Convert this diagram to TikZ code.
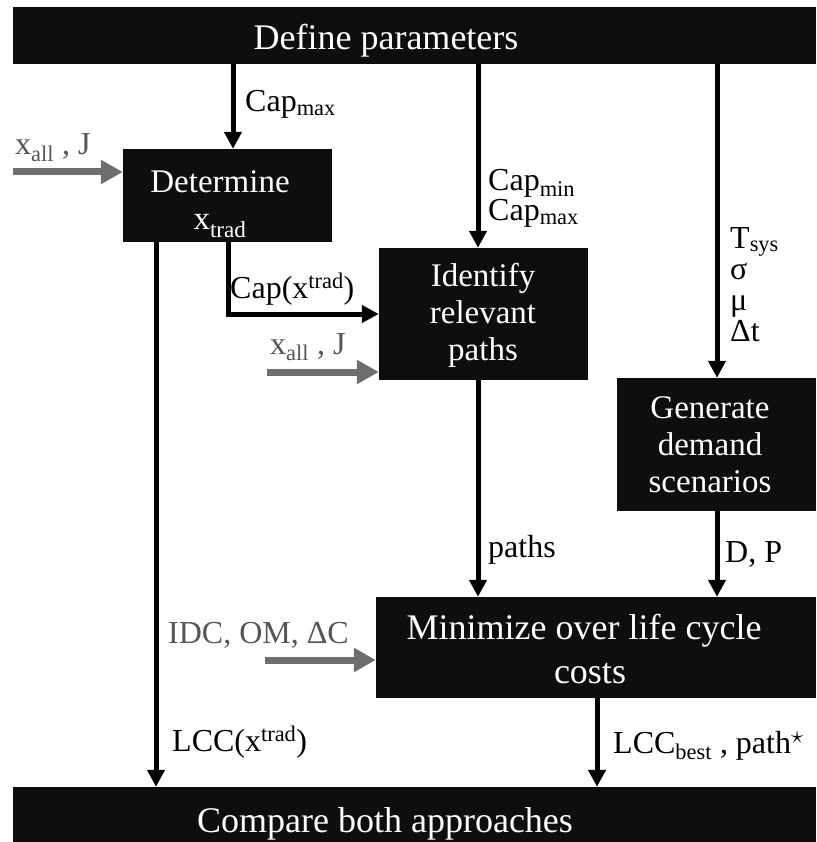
\documentclass[tikz,border=0pt]{standalone}
\usepackage{fontspec}
\setmainfont{Liberation Serif}
\usetikzlibrary{arrows.meta}
\definecolor{boxfill}{HTML}{0E0E0E}
\definecolor{feedgray}{HTML}{6E6E6E}
\definecolor{feedtext}{HTML}{555555}
\begin{document}
\begin{tikzpicture}[x=1pt,y=-1pt,
  blk/.style={fill=boxfill, draw=none, inner sep=0pt, minimum width=#1},
  boxtxt/.style={text=white, inner sep=0pt, align=center, font=\fontsize{33}{37}\selectfont},
  bartxt/.style={text=white, inner sep=0pt, align=center, font=\fontsize{36}{44}\selectfont},
  lbl/.style={anchor=base west, inner sep=0pt, font=\fontsize{32}{32}\selectfont},
  stack/.style={anchor=north west, inner sep=0pt, align=left, font=\fontsize{32}{#1}\selectfont},
  glbl/.style={lbl, text=feedtext},
  flow/.style={line width=5pt, -{Triangle[length=17pt,width=17pt]}},
  feed/.style={line width=7pt, draw=feedgray, -{Triangle[length=22pt,width=23pt]}},
]
\useasboundingbox (0,0) rectangle (816,842);
\fill[white] (0,0) rectangle (816,842);

% process boxes
\node[blk=803pt, minimum height=57pt]  (define) at (414.5,35.5) {};
\node[blk=209pt, minimum height=93pt]  (det)    at (227.5,195.5) {};
\node[blk=209pt, minimum height=132pt] (ident)  at (483.5,314) {};
\node[blk=199pt, minimum height=133pt] (gen)    at (716.5,444.5) {};
\node[blk=440pt, minimum height=101pt] (mini)   at (596,647.5) {};
\node[blk=803pt, minimum height=55pt]  (comp)   at (414.5,814.5) {};

% box texts
\node[bartxt, anchor=base] (definetxt) at (386,50) {Define parameters};
\node[boxtxt] (dettxt)   at (220,204) {Determine\\x\textsubscript{trad}};
\node[boxtxt] (identtxt) at (483,315) {Identify\\relevant\\paths};
\node[boxtxt] (gentxt)   at (710,445) {Generate\\demand\\scenarios};
\node[bartxt] (minitxt)  at (584,649) {Minimize over life cycle\\\hspace*{12pt}costs};
\node[bartxt, anchor=base] (comptxt) at (385,832) {Compare both approaches};

% columns of the vertical connectors
\coordinate (k1) at (233,0);
\coordinate (k2) at (478,0);
\coordinate (k3) at (717,0);
\coordinate (k4) at (156,0);
\coordinate (k5) at (228,0);
\coordinate (k6) at (597,0);

% free ends of the grey input arrows
\coordinate (g1) at (13,172);
\coordinate (g2) at (267,372);
\coordinate (g3) at (265,660);

% main flow
\draw[flow] (define.south -| k1) -- (det.north -| k1);
\draw[flow] (define.south -| k2) -- (ident.north -| k2);
\draw[flow] (define.south -| k3) -- (gen.north -| k3);
\draw[flow] (det.south -| k5) |- (ident.west);
\draw[flow] (det.south -| k4) -- (comp.north -| k4);
\draw[flow] (ident.south -| k2) -- (mini.north -| k2);
\draw[flow] (gen.south -| k3) -- (mini.north -| k3);
\draw[flow] (mini.south -| k6) -- (comp.north -| k6);

% external inputs
\draw[feed] (g1) -- (g1 -| det.west);
\draw[feed] (g2) -- (g2 -| ident.west);
\draw[feed] (g3) -- (g3 -| mini.west);

% connector labels
\node[lbl] (l1) at (245,112) {Cap\textsubscript{max}};
\node[stack=30] (l2) at (488,169) {Cap\textsubscript{min}\\Cap\textsubscript{max}};
\node[stack=31] (l3) at (730,227) {T\textsubscript{sys}\\σ\\μ\\Δt};
\node[lbl] (l4) at (230,298) {Cap(x\textsuperscript{trad})};
\node[lbl] (l5) at (172,751) {LCC(x\textsuperscript{trad})};
\node[lbl] (l6) at (488,557) {paths};
\node[lbl] (l7) at (725,562) {D, P};
\node[lbl] (l8) at (613,753) {LCC\textsubscript{best} , path\raisebox{0.3em}{$\star$}};
\node[glbl] (g1l) at (15,155) {x\textsubscript{all} , J};
\node[glbl] (g2l) at (270,354) {x\textsubscript{all} , J};
\node[glbl] (g3l) at (168,643) {IDC, OM, ΔC};
\end{tikzpicture}
\end{document}
